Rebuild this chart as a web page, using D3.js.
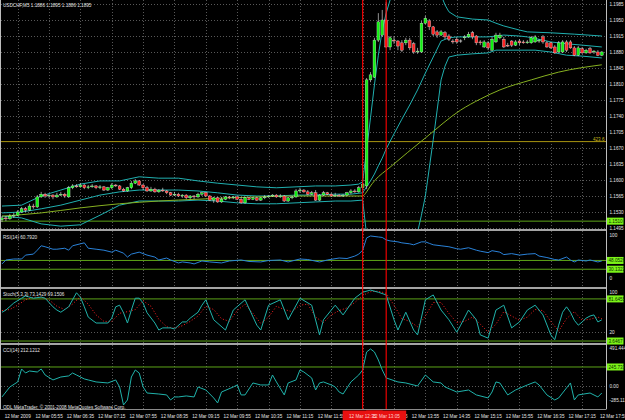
<!DOCTYPE html>
<html>
<head>
<meta charset="utf-8">
<script src="https://cdn.jsdelivr.net/npm/d3@7"></script>
<style>
  html, body { margin: 0; padding: 0; background: #000; }
  svg { display: block; }
  text { font-family: "Liberation Sans", Arial, sans-serif; font-size: 5.8px; fill: #e4e4e4; }
</style>
</head>
<body>
<div class="chart"></div>
<script>
// USDCHF M5, 154 bars
const opens = [
  1.1513,1.1517,1.1515,1.1521,1.1523,1.1530,1.1537,1.1534,1.1543,1.1541,
  1.1563,1.1569,1.1565,1.1567,1.1563,1.1567,1.1569,1.1563,1.1583,1.1587,
  1.1585,1.1589,1.1583,1.1585,1.1587,1.1583,1.1585,1.1578,1.1583,1.1589,
  1.1587,1.1580,1.1576,1.1583,1.1593,1.1598,1.1589,1.1583,1.1576,1.1580,
  1.1574,1.1578,1.1576,1.1572,1.1567,1.1569,1.1565,1.1567,1.1561,1.1565,
  1.1563,1.1569,1.1572,1.1565,1.1556,1.1561,1.1552,1.1558,1.1563,1.1561,
  1.1563,1.1558,1.1550,1.1561,1.1558,1.1561,1.1556,1.1561,1.1563,1.1565,
  1.1567,1.1563,1.1565,1.1554,1.1561,1.1563,1.1576,1.1578,1.1574,1.1569,
  1.1572,1.1556,1.1567,1.1572,1.1569,1.1565,1.1567,1.1565,1.1567,1.1572,
  1.1576,1.1574,1.1583,1.1587,1.1819,1.1825,1.1906,1.1917,1.1950,1.1891,
  1.1906,1.1904,1.1900,1.1900,1.1906,1.1898,1.1880,1.1880,1.1943,1.1948,
  1.1935,1.1924,1.1917,1.1922,1.1915,1.1904,1.1908,1.1904,1.1911,1.1913,
  1.1922,1.1915,1.1902,1.1891,1.1900,1.1884,1.1902,1.1911,1.1908,1.1895,
  1.1904,1.1895,1.1904,1.1902,1.1900,1.1900,1.1902,1.1904,1.1913,1.1900,
  1.1900,1.1891,1.1880,1.1880,1.1902,1.1902,1.1889,1.1873,1.1887,1.1878,
  1.1887,1.1880,1.1880,1.1873
];
const highs = [
  1.1521,1.1521,1.1526,1.1528,1.1534,1.1541,1.1541,1.1548,1.1548,1.1567,
  1.1574,1.1572,1.1569,1.1569,1.1572,1.1574,1.1572,1.1587,1.1591,1.1591,
  1.1593,1.1591,1.1589,1.1591,1.1589,1.1589,1.1587,1.1585,1.1593,1.1591,
  1.1589,1.1583,1.1585,1.1598,1.1602,1.1600,1.1591,1.1587,1.1585,1.1583,
  1.1580,1.1583,1.1578,1.1574,1.1574,1.1572,1.1569,1.1569,1.1567,1.1567,
  1.1572,1.1574,1.1574,1.1567,1.1563,1.1563,1.1563,1.1565,1.1565,1.1565,
  1.1565,1.1563,1.1563,1.1563,1.1563,1.1563,1.1563,1.1567,1.1567,1.1569,
  1.1569,1.1569,1.1567,1.1563,1.1565,1.1580,1.1583,1.1580,1.1578,1.1576,
  1.1578,1.1569,1.1576,1.1574,1.1572,1.1572,1.1569,1.1569,1.1574,1.1580,
  1.1580,1.1587,1.1593,1.1823,1.1836,1.1911,1.1965,1.1972,1.1989,1.1915,
  1.1915,1.1906,1.1906,1.1911,1.1911,1.1902,1.1889,1.1948,1.1959,1.1952,
  1.1937,1.1928,1.1928,1.1926,1.1919,1.1908,1.1913,1.1908,1.1917,1.1924,
  1.1926,1.1917,1.1906,1.1906,1.1904,1.1913,1.1922,1.1922,1.1913,1.1900,
  1.1906,1.1906,1.1908,1.1906,1.1906,1.1915,1.1917,1.1908,1.1917,1.1904,
  1.1902,1.1895,1.1904,1.1906,1.1906,1.1906,1.1893,1.1893,1.1891,1.1887,
  1.1891,1.1884,1.1884,1.1882
];
const lows = [
  1.1508,1.1510,1.1513,1.1517,1.1521,1.1528,1.1530,1.1532,1.1537,1.1539,
  1.1561,1.1561,1.1561,1.1558,1.1561,1.1565,1.1561,1.1561,1.1580,1.1583,
  1.1583,1.1580,1.1580,1.1583,1.1580,1.1580,1.1576,1.1576,1.1580,1.1585,
  1.1578,1.1574,1.1574,1.1580,1.1591,1.1587,1.1578,1.1574,1.1574,1.1572,
  1.1572,1.1574,1.1569,1.1565,1.1565,1.1563,1.1561,1.1558,1.1558,1.1558,
  1.1561,1.1565,1.1563,1.1554,1.1550,1.1550,1.1550,1.1556,1.1558,1.1558,
  1.1556,1.1548,1.1548,1.1556,1.1556,1.1554,1.1554,1.1558,1.1561,1.1563,
  1.1561,1.1561,1.1552,1.1552,1.1558,1.1561,1.1572,1.1572,1.1567,1.1567,
  1.1554,1.1554,1.1565,1.1567,1.1563,1.1563,1.1563,1.1563,1.1565,1.1569,
  1.1572,1.1572,1.1578,1.1580,1.1814,1.1823,1.1902,1.1913,1.1889,1.1884,
  1.1898,1.1884,1.1880,1.1895,1.1884,1.1876,1.1876,1.1878,1.1941,1.1928,
  1.1915,1.1911,1.1915,1.1908,1.1904,1.1898,1.1898,1.1900,1.1906,1.1911,
  1.1908,1.1895,1.1895,1.1889,1.1884,1.1882,1.1900,1.1908,1.1889,1.1891,
  1.1891,1.1893,1.1895,1.1898,1.1898,1.1898,1.1900,1.1900,1.1898,1.1889,
  1.1887,1.1876,1.1878,1.1878,1.1880,1.1887,1.1871,1.1871,1.1876,1.1876,
  1.1876,1.1876,1.1871,1.1871
];
const closes = [
  1.1517,1.1515,1.1521,1.1523,1.1530,1.1537,1.1534,1.1543,1.1541,1.1563,
  1.1569,1.1565,1.1567,1.1563,1.1567,1.1569,1.1565,1.1583,1.1587,1.1585,
  1.1589,1.1583,1.1585,1.1587,1.1583,1.1585,1.1578,1.1583,1.1589,1.1587,
  1.1580,1.1576,1.1583,1.1593,1.1598,1.1589,1.1583,1.1576,1.1580,1.1574,
  1.1578,1.1576,1.1572,1.1567,1.1569,1.1565,1.1567,1.1561,1.1565,1.1563,
  1.1569,1.1572,1.1565,1.1556,1.1561,1.1552,1.1558,1.1563,1.1561,1.1563,
  1.1558,1.1550,1.1561,1.1558,1.1561,1.1556,1.1561,1.1563,1.1565,1.1567,
  1.1563,1.1565,1.1554,1.1561,1.1563,1.1576,1.1578,1.1574,1.1569,1.1572,
  1.1556,1.1567,1.1572,1.1569,1.1565,1.1567,1.1565,1.1567,1.1572,1.1576,
  1.1574,1.1583,1.1591,1.1819,1.1830,1.1906,1.1946,1.1950,1.1891,1.1911,
  1.1904,1.1893,1.1884,1.1906,1.1889,1.1880,1.1882,1.1943,1.1954,1.1935,
  1.1919,1.1917,1.1924,1.1913,1.1908,1.1902,1.1902,1.1904,1.1913,1.1919,
  1.1913,1.1900,1.1900,1.1902,1.1889,1.1908,1.1917,1.1917,1.1891,1.1893,
  1.1895,1.1902,1.1900,1.1900,1.1902,1.1911,1.1913,1.1906,1.1902,1.1891,
  1.1889,1.1878,1.1900,1.1902,1.1884,1.1889,1.1873,1.1889,1.1878,1.1884,
  1.1878,1.1882,1.1873,1.1880
];

// Bollinger bands and moving average: [bar, price]
const bbUpper = [[0,1.1543],[5,1.1545],[10,1.1565],[15,1.1578],[20,1.1591],[25,1.1598],[30,1.1598],[35,1.1607],[40,1.1604],[45,1.1604],[50,1.1598],[55,1.1593],[60,1.1589],[65,1.1585],[70,1.1583],[75,1.1585],[80,1.1587],[85,1.1587],[89,1.1589],[91,1.1591],[92,1.1596],[93,1.1666],[94,1.1736],[95,1.1808],[96,1.1873],[97,1.1928],[98,1.1965],[99,1.1994],[100,1.2022],[102,1.2070],[104,1.2097],[106,1.2108],[108,1.2103],[110,1.2075],[111,1.2042],[112,1.2005],[113,1.1983],[114,1.1968],[116,1.1957],[120,1.1952],[124,1.1950],[126,1.1943],[128,1.1937],[132,1.1928],[134,1.1924],[140,1.1922],[146,1.1919],[153,1.1915]];
const bbMiddle = [[0,1.1528],[5,1.1530],[10,1.1537],[15,1.1545],[20,1.1556],[25,1.1567],[30,1.1574],[35,1.1578],[40,1.1578],[45,1.1578],[50,1.1576],[55,1.1572],[60,1.1567],[65,1.1565],[70,1.1565],[75,1.1567],[80,1.1567],[85,1.1569],[89,1.1569],[92,1.1572],[93,1.1585],[94,1.1598],[95,1.1613],[96,1.1631],[97,1.1648],[98,1.1668],[100,1.1701],[102,1.1733],[104,1.1764],[106,1.1797],[108,1.1834],[110,1.1869],[112,1.1904],[114,1.1911],[116,1.1913],[120,1.1913],[124,1.1913],[126,1.1915],[128,1.1917],[132,1.1915],[134,1.1913],[138,1.1906],[140,1.1902],[144,1.1898],[148,1.1895],[153,1.1891]];
const bbLower = [[0,1.1521],[5,1.1517],[10,1.1504],[15,1.1499],[20,1.1502],[25,1.1523],[30,1.1545],[35,1.1554],[40,1.1554],[45,1.1554],[50,1.1556],[55,1.1554],[60,1.1550],[65,1.1548],[70,1.1548],[75,1.1550],[80,1.1552],[85,1.1554],[89,1.1554],[92,1.1556],[93,1.1480],[94,1.1447],[96,1.1381],[100,1.1377],[104,1.1421],[106,1.1486],[107,1.1523],[108,1.1565],[110,1.1688],[111,1.1753],[112,1.1819],[113,1.1849],[114,1.1869],[116,1.1873],[120,1.1876],[124,1.1878],[126,1.1884],[136,1.1884],[140,1.1880],[144,1.1873],[148,1.1871],[153,1.1867]];
const maSlow = [[0,1.1521],[10,1.1528],[20,1.1539],[30,1.1548],[40,1.1554],[50,1.1558],[65,1.1563],[75,1.1565],[92,1.1565],[93,1.1574],[94,1.1587],[95,1.1598],[99,1.1628],[108,1.1692],[117,1.1753],[122,1.1777],[127,1.1797],[135,1.1819],[142,1.1836],[153,1.1852]];

const levelGreen = 1.1510;
const levelFibo = 1.1684;
const fiboText = '423.6';
const priceTicks = [1.1985,1.1950,1.1915,1.1880,1.1845,1.1810,1.1775,1.1740,1.1705,1.1670,1.1635,1.1600,1.1565,1.1530,1.1495];

// RSI(14): [bar, value]
const rsi = [[0,41],[1,49],[3,51],[5,51],[6,59],[8,61],[9,69],[10,78],[11,76],[13,71],[14,71],[16,73],[17,69],[18,78],[20,82],[21,84],[22,73],[24,71],[26,69],[28,65],[29,69],[31,63],[32,55],[33,61],[35,65],[37,59],[39,55],[40,49],[42,53],[43,49],[45,43],[46,45],[48,43],[49,41],[51,47],[53,45],[56,43],[58,47],[61,49],[63,46],[66,45],[68,48],[71,49],[73,45],[76,51],[78,50],[81,45],[83,49],[86,53],[88,52],[90,57],[91,61],[92,69],[93,94],[94,98],[96,96],[97,95],[98,90],[99,88],[101,86],[102,84],[104,82],[105,80],[107,86],[108,86],[109,83],[110,80],[112,78],[114,76],[116,72],[117,71],[119,74],[121,69],[122,67],[124,64],[125,68],[127,65],[128,60],[130,62],[132,59],[134,61],[136,62],[137,57],[139,54],[141,50],[142,49],[144,55],[145,49],[146,45],[147,49],[149,47],[150,49],[152,45],[153,47]];
const rsiLevels = [48.0526, 30.1322];

// Stochastic(5,3,3): main and signal, [bar, value]
const stochMain = [[0,57],[1,61],[3,74],[5,83],[6,87],[8,83],[10,85],[11,83],[13,67],[14,61],[15,57],[17,67],[19,93],[20,85],[21,67],[22,48],[24,37],[25,37],[27,37],[28,46],[29,67],[30,70],[31,56],[32,37],[33,61],[34,83],[35,83],[36,74],[37,56],[39,37],[40,24],[41,28],[43,28],[44,26],[46,39],[47,39],[48,46],[50,57],[51,70],[52,80],[54,43],[57,24],[59,61],[62,80],[65,33],[66,24],[68,70],[71,80],[73,43],[76,83],[79,70],[81,15],[82,43],[85,70],[87,52],[90,83],[92,94],[94,98],[96,94],[98,89],[100,43],[101,24],[103,57],[105,24],[106,15],[108,80],[110,89],[112,61],[114,43],[116,20],[117,33],[119,61],[121,43],[122,15],[124,9],[126,61],[128,70],[130,28],[132,39],[134,61],[136,70],[138,52],[140,15],[141,6],[142,33],[143,57],[144,67],[145,57],[146,42],[147,33],[148,39],[149,46],[150,50],[151,52],[152,39],[153,43]];
const stochSignal = [[0,60],[2,62],[4,70],[6,80],[8,85],[10,85],[12,80],[14,68],[16,62],[18,72],[20,86],[22,72],[24,52],[26,40],[28,40],[30,55],[32,58],[34,62],[36,78],[38,68],[40,44],[42,30],[44,27],[46,32],[48,40],[50,50],[52,68],[54,62],[56,45],[58,40],[60,60],[62,72],[64,55],[66,36],[68,48],[70,68],[72,62],[74,58],[76,70],[78,72],[80,48],[82,38],[84,52],[86,60],[88,65],[90,75],[92,88],[94,95],[96,96],[98,92],[100,70],[102,45],[104,40],[106,30],[108,50],[110,75],[112,75],[114,55],[116,38],[118,40],[120,48],[122,35],[124,20],[126,35],[128,58],[130,50],[132,42],[134,48],[136,62],[138,60],[140,40],[142,22],[144,45],[146,58],[148,42],[150,44],[152,48],[153,45]];
const stochLevels = [81.6455, 3.6467];

// CCI(14): [bar, value]
const cci = [[0,-142],[2,-13],[4,52],[5,220],[6,168],[7,194],[9,181],[10,220],[11,142],[13,78],[15,116],[17,130],[18,168],[19,142],[21,91],[22,78],[24,52],[27,39],[29,78],[30,-13],[31,-246],[32,-181],[33,116],[34,207],[35,168],[36,-13],[37,-91],[40,-104],[42,-116],[43,-181],[44,-142],[45,-142],[47,-129],[49,-142],[50,-13],[52,-52],[54,-155],[55,-220],[56,-78],[59,-13],[60,13],[61,-116],[62,-116],[64,39],[66,13],[68,13],[69,142],[70,52],[72,-116],[73,39],[75,78],[76,207],[77,181],[79,104],[80,-52],[81,39],[82,52],[84,13],[85,-13],[86,-78],[87,-104],[88,-26],[89,52],[91,142],[92,207],[93,440],[94,479],[95,440],[96,336],[97,207],[98,104],[101,52],[103,39],[106,0],[108,142],[110,52],[112,39],[113,-13],[116,-78],[119,-52],[121,-116],[124,-155],[125,-78],[126,52],[127,39],[129,-116],[131,-52],[134,13],[136,52],[137,13],[139,-116],[141,-181],[142,-155],[144,-26],[145,39],[146,-181],[147,-116],[150,-91],[152,-142],[153,-91]];
const cciLevel = 245.7332;

const timeTicks = [[4,'12 Mar 2009'],[12,'12 Mar 05:55'],[20,'12 Mar 06:35'],[28,'12 Mar 07:15'],[36,'12 Mar 07:55'],[44,'12 Mar 08:35'],[52,'12 Mar 09:15'],[60,'12 Mar 09:55'],[68,'12 Mar 10:35'],[76,'12 Mar 11:15'],[84,'12 Mar 11:55'],[92,'12 Mar 12:35'],[100,'12 Mar 13:15'],[108,'12 Mar 13:55'],[116,'12 Mar 14:35'],[124,'12 Mar 15:15'],[132,'12 Mar 15:55'],[140,'12 Mar 16:35'],[148,'12 Mar 17:15'],[156,'12 Mar 17:55']];
const vLines = [[92,'12 Mar 12:35'],[98,'12 Mar 13:05']];

const W = 625, H = 420;
const axisX = 606.5;
const squeeze = 0.8;   // the screenshot's text is narrower than any installed face
const panels = {
  main:  {top: 0,   bottom: 229},
  rsi:   {top: 232, bottom: 287},
  stoch: {top: 289, bottom: 343},
  cci:   {top: 345, bottom: 409}
};

const x = d3.scaleLinear().domain([0, 153]).range([2, 601.8]);
const yPrice = d3.scaleLinear().domain([1.1495, 1.1985]).range([228, 4]);
const yRsi = d3.scaleLinear().domain([0, 100]).range([284, 235]);
const yStoch = d3.scaleLinear().domain([0, 100]).range([343, 289]);
const yCci = d3.scaleLinear().domain([-285.117, 491.444]).range([408, 348]);

const svg = d3.select('.chart').append('svg')
  .attr('width', W)
  .attr('height', H)
  .attr('viewBox', '0 0 ' + W + ' ' + H);

svg.append('rect').attr('width', W).attr('height', H).attr('fill', '#000');

function label(g, tx, ty, str, anchor) {
  return g.append('text')
    .attr('transform', 'translate(' + tx + ',' + ty + ') scale(' + squeeze + ',1)')
    .attr('dy', '0.35em')
    .attr('text-anchor', anchor || 'start')
    .text(str);
}

const defs = svg.append('defs');
Object.entries(panels).forEach(([id, p]) => {
  defs.append('clipPath').attr('id', 'clip-' + id)
    .append('rect')
    .attr('x', 1).attr('y', p.top)
    .attr('width', axisX - 1).attr('height', p.bottom - p.top);
});

// grid
const grid = svg.append('g').attr('stroke', '#6e6e6e').attr('stroke-dasharray', '1,2').attr('stroke-width', 0.8);
grid.selectAll('line.v').data(timeTicks.filter(t => x(t[0]) < axisX)).join('line')
  .attr('x1', d => Math.round(x(d[0])) + 0.5).attr('x2', d => Math.round(x(d[0])) + 0.5)
  .attr('y1', 0).attr('y2', panels.cci.bottom);
grid.selectAll('line.h').data(priceTicks).join('line')
  .attr('x1', 1).attr('x2', axisX)
  .attr('y1', d => Math.round(yPrice(d)) + 0.5).attr('y2', d => Math.round(yPrice(d)) + 0.5);
grid.append('line').attr('x1', 1).attr('x2', axisX)
  .attr('y1', Math.round(yStoch(20)) + 0.5).attr('y2', Math.round(yStoch(20)) + 0.5);
grid.append('line').attr('x1', 1).attr('x2', axisX)
  .attr('y1', Math.round(yCci(0)) + 0.5).attr('y2', Math.round(yCci(0)) + 0.5);

// main panel
const gMain = svg.append('g').attr('clip-path', 'url(#clip-main)');

gMain.append('line')
  .attr('x1', 1).attr('x2', axisX)
  .attr('y1', yPrice(levelFibo)).attr('y2', yPrice(levelFibo))
  .attr('stroke', '#a89410').attr('stroke-width', 1);
gMain.append('line')
  .attr('x1', 1).attr('x2', axisX)
  .attr('y1', yPrice(levelGreen)).attr('y2', yPrice(levelGreen))
  .attr('stroke', '#5ca318').attr('stroke-width', 1);

const priceLine = d3.line().x(d => x(d[0])).y(d => yPrice(d[1]));
[bbUpper, bbMiddle, bbLower].forEach(band => {
  gMain.append('path').datum(band)
    .attr('d', priceLine)
    .attr('fill', 'none').attr('stroke', '#20b0b0').attr('stroke-width', 1);
});
gMain.append('path').datum(maSlow)
  .attr('d', d3.line().x(d => x(d[0])).y(d => yPrice(d[1])).curve(d3.curveMonotoneX))
  .attr('fill', 'none').attr('stroke', '#86b020').attr('stroke-width', 1);

const bars = d3.range(closes.length).map(i => ({i: i, o: opens[i], h: highs[i], l: lows[i], c: closes[i]}));

gMain.selectAll('line.wick').data(bars).join('line')
  .attr('class', 'wick')
  .attr('x1', d => x(d.i)).attr('x2', d => x(d.i))
  .attr('y1', d => yPrice(d.h)).attr('y2', d => yPrice(d.l))
  .attr('stroke', '#cfcfcf').attr('stroke-width', 0.7);

gMain.selectAll('rect.body').data(bars.filter(d => d.o !== d.c)).join('rect')
  .attr('class', 'body')
  .attr('x', d => x(d.i) - 1.4).attr('width', 2.8)
  .attr('y', d => yPrice(Math.max(d.o, d.c)))
  .attr('height', d => Math.max(0.8, Math.abs(yPrice(d.o) - yPrice(d.c))))
  .attr('fill', d => d.c > d.o ? '#10f010' : '#ff2626')
  .attr('stroke', '#e4e4e4').attr('stroke-width', 0.35);

gMain.selectAll('line.doji').data(bars.filter(d => d.o === d.c)).join('line')
  .attr('class', 'doji')
  .attr('x1', d => x(d.i) - 1.5).attr('x2', d => x(d.i) + 1.5)
  .attr('y1', d => yPrice(d.c)).attr('y2', d => yPrice(d.c))
  .attr('stroke', '#e8e8e8').attr('stroke-width', 0.8);

label(svg, axisX - 2, yPrice(levelFibo) - 3, fiboText, 'end').style('fill', '#c8b41c');

// RSI panel
const gRsi = svg.append('g').attr('clip-path', 'url(#clip-rsi)');
gRsi.selectAll('line').data(rsiLevels).join('line')
  .attr('x1', 1).attr('x2', axisX)
  .attr('y1', d => yRsi(d)).attr('y2', d => yRsi(d))
  .attr('stroke', '#5ca318').attr('stroke-width', 1);
gRsi.append('path').datum(rsi)
  .attr('d', d3.line().x(d => x(d[0])).y(d => yRsi(d[1])))
  .attr('fill', 'none').attr('stroke', '#2a82d8').attr('stroke-width', 1);

// Stochastic panel
const gSto = svg.append('g').attr('clip-path', 'url(#clip-stoch)');
gSto.selectAll('line').data(stochLevels).join('line')
  .attr('x1', 1).attr('x2', axisX)
  .attr('y1', d => yStoch(d)).attr('y2', d => yStoch(d))
  .attr('stroke', '#5ca318').attr('stroke-width', 1);
gSto.append('path').datum(stochSignal)
  .attr('d', d3.line().x(d => x(d[0])).y(d => yStoch(d[1])))
  .attr('fill', 'none').attr('stroke', '#ff2020').attr('stroke-width', 1)
  .attr('stroke-dasharray', '1,2');
gSto.append('path').datum(stochMain)
  .attr('d', d3.line().x(d => x(d[0])).y(d => yStoch(d[1])))
  .attr('fill', 'none').attr('stroke', '#20b2aa').attr('stroke-width', 1);

// CCI panel
const gCci = svg.append('g').attr('clip-path', 'url(#clip-cci)');
gCci.append('line')
  .attr('x1', 1).attr('x2', axisX)
  .attr('y1', yCci(cciLevel)).attr('y2', yCci(cciLevel))
  .attr('stroke', '#5ca318').attr('stroke-width', 1);
gCci.append('path').datum(cci)
  .attr('d', d3.line().x(d => x(d[0])).y(d => yCci(d[1])))
  .attr('fill', 'none').attr('stroke', '#20b2aa').attr('stroke-width', 1);

// panel separators and borders
const sep = svg.append('g');
[panels.main.bottom, panels.rsi.bottom, panels.stoch.bottom].forEach(y0 => {
  sep.append('rect').attr('x', 0).attr('y', y0).attr('width', axisX).attr('height', 2).attr('fill', '#a4a4a4');
});
sep.append('line').attr('x1', axisX).attr('x2', axisX).attr('y1', 0).attr('y2', panels.cci.bottom)
  .attr('stroke', '#bdbdbd').attr('stroke-width', 1);
sep.append('line').attr('x1', 0.5).attr('x2', 0.5).attr('y1', 0).attr('y2', panels.cci.bottom)
  .attr('stroke', '#bdbdbd').attr('stroke-width', 1);
sep.append('line').attr('x1', 0).attr('x2', axisX).attr('y1', panels.cci.bottom + 0.5).attr('y2', panels.cci.bottom + 0.5)
  .attr('stroke', '#8a8a8a').attr('stroke-width', 1);

// price axis
const axisG = svg.append('g');
priceTicks.forEach(p => label(axisG, axisX + 3, yPrice(p), p.toFixed(4)));

function clampY(v, p, lo, hi) {
  return Math.max(p.top + lo, Math.min(p.bottom - hi, v));
}
const subTicks = [
  [yRsi, panels.rsi, 100, '100'], [yRsi, panels.rsi, 0, '0'],
  [yStoch, panels.stoch, 100, '100'], [yStoch, panels.stoch, 20, '20'],
  [yCci, panels.cci, 491.444, '491.444'], [yCci, panels.cci, 0, '0.00'], [yCci, panels.cci, -285.117, '-285.117']
];
subTicks.forEach(t => label(axisG, axisX + 3, clampY(t[0](t[2]), t[1], 3, 9), t[3]));

// green price boxes for horizontal line objects
const boxes = [
  [yPrice(levelGreen), levelGreen.toFixed(4)],
  [yRsi(rsiLevels[0]), rsiLevels[0].toFixed(4)],
  [yRsi(rsiLevels[1]), rsiLevels[1].toFixed(4)],
  [yStoch(stochLevels[0]), stochLevels[0].toFixed(4)],
  [yStoch(stochLevels[1]), stochLevels[1].toFixed(4)],
  [yCci(cciLevel), cciLevel.toFixed(4)]
];
boxes.forEach(b => {
  axisG.append('rect').attr('x', axisX + 0.5).attr('y', b[0] - 3.5).attr('width', 16.5).attr('height', 7)
    .attr('fill', '#7cf418');
  label(axisG, axisX + 2, b[0], b[1]).style('fill', '#0a2a00');
});

// time axis
const timeY = 415.5;
timeTicks.forEach(t => label(axisG, x(t[0]), timeY, t[1], 'middle'));
vLines.forEach(v => {
  axisG.append('rect').attr('x', x(v[0]) - 20).attr('y', 410.5).attr('width', 40).attr('height', 9.5)
    .attr('fill', '#e81010');
});
vLines.forEach(v => label(axisG, x(v[0]), timeY, v[1], 'middle').style('fill', '#ffd0d0'));

// red vertical line objects, drawn last so they sit over every panel
const vg = svg.append('g');
vLines.forEach(v => {
  vg.append('rect')
    .attr('x', x(v[0]) - 0.55).attr('y', 0)
    .attr('width', 1.1).attr('height', panels.cci.bottom)
    .attr('fill', '#ff0000');
});

// headers
label(svg, 3, 5, 'USDCHF,M5  1.1886 1.1895 1.1886 1.1895');
label(svg, 3, 236.5, 'RSI(14) 60.7920');
label(svg, 3, 294, 'Stoch(5,3,3) 73.1429 69.1506');
label(svg, 3, 349.5, 'CCI(14) 212.1212');
label(svg, 3, 406.5, 'ODL MetaTrader, \u00a9 2001-2008 MetaQuotes Software Corp.');
</script>
</body>
</html>
